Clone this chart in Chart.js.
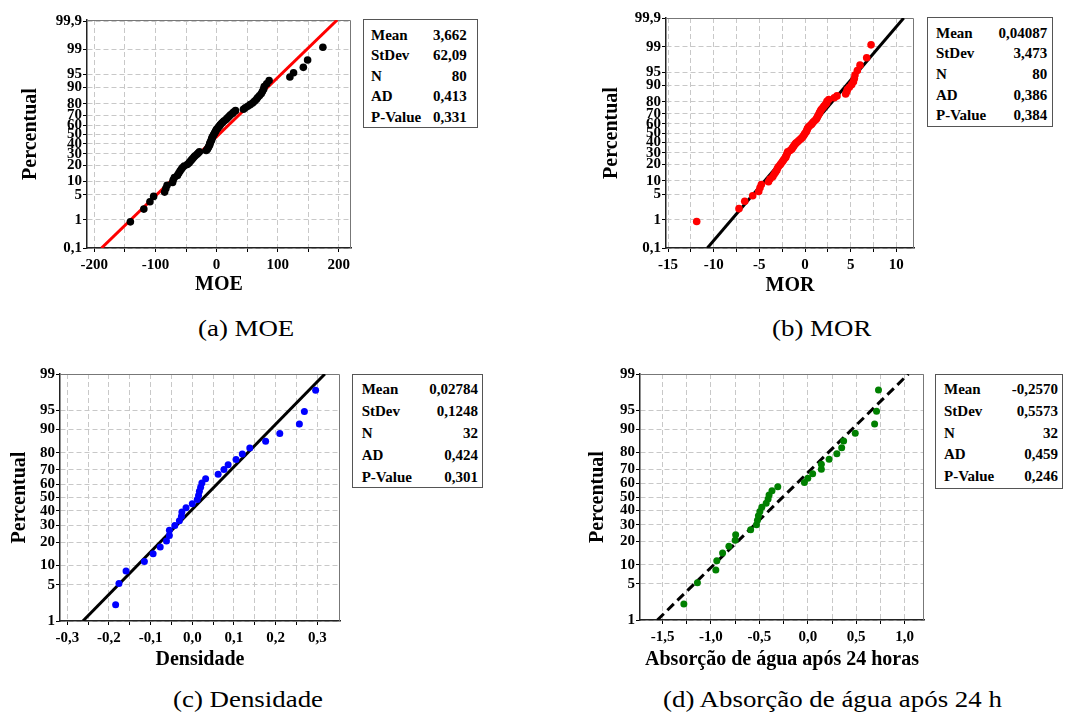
<!DOCTYPE html>
<html>
<head>
<meta charset="utf-8">
<script src="https://cdn.jsdelivr.net/npm/chart.js@4.4.1/dist/chart.umd.min.js"></script>
<style>
  body { margin: 0; background: #fff; width: 1067px; height: 713px; position: relative; overflow: hidden;
         font-family: "Liberation Serif", "Times New Roman", serif; }
  .panel { position: absolute; }
  .stats { position: absolute; border: 1px solid #555; box-sizing: border-box; font-weight: bold; font-size: 15px; }
  .stats span { position: absolute; line-height: 18px; white-space: nowrap; }
  .caption { position: absolute; font-size: 24px; line-height: 28px; white-space: nowrap;
             transform-origin: left center; transform: scaleX(1.12); }
</style>
</head>
<body>

<div class="panel" id="pa"><canvas id="cMOE"></canvas></div>
<div class="panel" id="pb"><canvas id="cMOR"></canvas></div>
<div class="panel" id="pc"><canvas id="cDens"></canvas></div>
<div class="panel" id="pd"><canvas id="cAbs"></canvas></div>

<script>
// sorted sample values for each property
var moeValues = [-141, -119, -109, -103, -85, -83, -81, -72, -71, -69,
                 -64, -62, -60, -58, -56, -53, -48, -45, -43, -41,
                 -39, -37, -35, -32, -30, -28, -17, -15, -14, -13,
                 -12, -11, -11, -10, -9, -8, -8, -7, -6, -5,
                 -4, -3, -2, -1, 0, 2, 3, 5, 6, 8,
                 10, 12, 15, 17, 19, 21, 23, 26, 28, 31,
                 44, 47, 51, 55, 59, 62, 65, 67, 70, 73,
                 75, 77, 78, 82, 86, 120, 126, 142, 149, 174];
var morValues = [-11.86, -7.23, -6.6, -5.73, -5.07, -4.93, -4.78, -4.0, -3.83, -3.54,
                 -3.4, -3.25, -3.1, -3.03, -2.92, -2.74, -2.63, -2.48, -2.37, -2.26,
                 -2.12, -2.08, -2.0, -1.95, -1.9, -1.64, -1.46, -1.39, -1.28, -1.2,
                 -1.1, -1.0, -0.84, -0.7, -0.55, -0.4, -0.29, -0.18, -0.11, -0.04,
                 0.07, 0.15, 0.2, 0.25, 0.3, 0.4, 0.55, 0.7, 0.8, 0.9,
                 1.05, 1.2, 1.28, 1.35, 1.42, 1.5, 1.57, 1.64, 1.72, 1.82,
                 1.97, 2.08, 2.23, 2.37, 2.4, 2.6, 3.2, 3.5, 4.45, 4.56,
                 4.63, 4.85, 5.1, 5.3, 5.4, 5.47, 5.73, 6.02, 6.75, 7.23];
var densValues = [-0.184, -0.176, -0.159, -0.115, -0.094, -0.077, -0.062, -0.055,
                  -0.055, -0.042, -0.031, -0.026, -0.025, -0.015, 0.0, 0.012,
                  0.015, 0.017, 0.02, 0.023, 0.032, 0.062, 0.076, 0.086,
                  0.105, 0.12, 0.138, 0.176, 0.21, 0.257, 0.269, 0.296];
var absValues = [-1.28, -1.14, -0.95, -0.94, -0.88, -0.815, -0.75, -0.745,
                 -0.59, -0.53, -0.52, -0.51, -0.495, -0.475, -0.43, -0.41,
                 -0.40, -0.37, -0.31, -0.035, 0.0, 0.05, 0.14, 0.14,
                 0.22, 0.30, 0.35, 0.37, 0.49, 0.69, 0.71, 0.73];

// summary table: Mean, StDev, N, AD, P-Value
var statNames = ['Mean', 'StDev', 'N', 'AD', 'P-Value'];
var moeStats = ['3,662', '62,09', '80', '0,413', '0,331'];
var morStats = ['0,04087', '3,473', '80', '0,386', '0,384'];
var densStats = ['0,02784', '0,1248', '32', '0,424', '0,301'];
var absStats = ['-0,2570', '0,5573', '32', '0,459', '0,246'];

// probability axis ticks (percent)
var pctWide = [0.1, 1, 5, 10, 20, 30, 40, 50, 60, 70, 80, 90, 95, 99, 99.9];
var pctNarrow = [1, 5, 10, 20, 30, 40, 50, 60, 70, 80, 90, 95, 99];

// x grid lines and their labels
var moeGrid = [-200, -150, -100, -50, 0, 50, 100, 150, 200];
var moeGridLabels = ['-200', '', '-100', '', '0', '', '100', '', '200'];
var morGrid = [-15, -12.5, -10, -7.5, -5, -2.5, 0, 2.5, 5, 7.5, 10];
var morGridLabels = ['-15', '', '-10', '', '-5', '', '0', '', '5', '', '10'];
var densGrid = [-0.3, -0.25, -0.2, -0.15, -0.1, -0.05, 0, 0.05, 0.1, 0.15, 0.2, 0.25, 0.3];
var densGridLabels = ['-0,3', '', '-0,2', '', '-0,1', '', '0,0', '', '0,1', '', '0,2', '', '0,3'];
var absGrid = [-1.5, -1.25, -1, -0.75, -0.5, -0.25, 0, 0.25, 0.5, 0.75, 1];
var absGridLabels = ['-1,5', '', '-1,0', '', '-0,5', '', '0,0', '', '0,5', '', '1,0'];

var serif = "'Liberation Serif', 'Times New Roman', serif";
Chart.defaults.font.family = serif;

function num(s) { return parseFloat(s.replace(',', '.')); }

// inverse normal CDF (Acklam)
function qnorm(p) {
  var a = [-39.69683028665376, 220.9460984245205, -275.9285104469687, 138.3577518672690, -30.66479806614716, 2.506628277459239];
  var b = [-54.47609879822406, 161.5858368580409, -155.6989798598866, 66.80131188771972, -13.28068155288572];
  var c = [-0.007784894002430293, -0.3223964580411365, -2.400758277161838, -2.549732539343734, 4.374664141464968, 2.938163982698783];
  var d = [0.007784695709041462, 0.3224671290700398, 2.445134137142996, 3.754408661907416];
  var q, r;
  if (p < 0.02425 || p > 0.97575) {
    q = Math.sqrt(-2 * Math.log(p < 0.5 ? p : 1 - p));
    var v = (((((c[0]*q+c[1])*q+c[2])*q+c[3])*q+c[4])*q+c[5]) / ((((d[0]*q+d[1])*q+d[2])*q+d[3])*q+1);
    return p < 0.5 ? v : -v;
  }
  q = p - 0.5; r = q * q;
  return (((((a[0]*r+a[1])*r+a[2])*r+a[3])*r+a[4])*r+a[5])*q / (((((b[0]*r+b[1])*r+b[2])*r+b[3])*r+b[4])*r+1);
}

// top and right edges of the plot box
var frame = {
  id: 'frame',
  beforeDatasetsDraw: function(chart) {
    var ctx = chart.ctx, a = chart.chartArea;
    ctx.save();
    ctx.strokeStyle = '#777';
    ctx.lineWidth = 1;
    ctx.beginPath();
    ctx.moveTo(a.left, a.top + 0.5);
    ctx.lineTo(a.right - 0.5, a.top + 0.5);
    ctx.lineTo(a.right - 0.5, a.bottom);
    ctx.stroke();
    ctx.restore();
  }
};

function statsBox(stats, box) {
  var el = document.createElement('div');
  el.className = 'stats';
  el.style.left = box.left + 'px'; el.style.top = box.top + 'px';
  el.style.width = box.w + 'px'; el.style.height = box.h + 'px';
  statNames.forEach(function(name, i) {
    var y = box.row0 + i * box.step - 9;
    var l = document.createElement('span');
    l.textContent = name;
    l.style.left = box.padL + 'px'; l.style.top = y + 'px';
    var v = document.createElement('span');
    v.textContent = stats[i];
    v.style.right = box.padR + 'px'; v.style.top = y + 'px';
    el.appendChild(l); el.appendChild(v);
  });
  document.body.appendChild(el);
}

function caption(text, left, top) {
  var el = document.createElement('div');
  el.className = 'caption';
  el.textContent = text;
  el.style.left = left + 'px'; el.style.top = top + 'px';
  document.body.appendChild(el);
}

function probPlot(p) {
  var wrap = document.getElementById(p.wrap);
  wrap.style.left = p.L + 'px'; wrap.style.top = p.T + 'px';
  var cv = document.getElementById(p.canvas);
  cv.width = p.W; cv.height = p.H;

  var n = p.values.length;
  var pts = p.values.map(function(v, i) {
    return {x: v, y: qnorm((i + 1 - 0.3) / (n + 0.4))};
  });
  var mean = num(p.stats[0]), sd = num(p.stats[1]);
  var fit = [p.yMin, p.yMax].map(function(z) { return {x: mean + sd * z, y: z}; });
  var yTicks = p.pct.map(function(v) { return qnorm(v / 100); });

  new Chart(cv, {
    type: 'scatter',
    data: {
      datasets: [
        { data: pts, order: 0, pointRadius: p.r, pointHoverRadius: p.r,
          backgroundColor: p.dot, borderWidth: 0 },
        { data: fit, order: 1, showLine: true, pointRadius: 0, fill: false,
          borderColor: p.line, borderWidth: 3, borderDash: p.dash || [] }
      ]
    },
    options: {
      responsive: false,
      animation: false,
      layout: { padding: { top: p.padTop, right: p.padRight, left: 0, bottom: 0 } },
      plugins: { legend: { display: false }, tooltip: { enabled: false } },
      scales: {
        x: {
          type: 'linear', min: p.xMin, max: p.xMax,
          afterBuildTicks: function(s) { s.ticks = p.grid.map(function(v) { return {value: v}; }); },
          afterFit: function(s) { s.height = p.xh; },
          ticks: { autoSkip: false, maxRotation: 0, padding: 4, color: '#000',
                   font: { size: 15, weight: 'bold' },
                   callback: function(v, i) { return p.gridLabels[i]; } },
          grid: { color: '#c8c8c8', lineWidth: 1, tickLength: 4, tickColor: '#000', tickWidth: 1 },
          border: { display: true, color: '#222', width: 1.5, dash: [5, 3] },
          title: { display: true, text: p.xTitle, color: '#000',
                   font: { size: 20, weight: 'bold' }, padding: { top: 0, bottom: p.xTitlePad } }
        },
        y: {
          type: 'linear', min: p.yMin, max: p.yMax,
          afterBuildTicks: function(s) { s.ticks = yTicks.map(function(v) { return {value: v}; }); },
          afterFit: function(s) { s.width = p.yw; },
          ticks: { autoSkip: false, padding: 1, color: '#000',
                   font: { size: 15, weight: 'bold' },
                   callback: function(v, i) { return String(p.pct[i]).replace('.', ','); } },
          grid: { color: '#c8c8c8', lineWidth: 1, tickLength: 4, tickColor: '#000', tickWidth: 1 },
          border: { display: true, color: '#222', width: 1.5, dash: [5, 3] },
          title: { display: true, text: 'Percentual', color: '#000',
                   font: { size: 20, weight: 'bold' }, padding: { top: p.yTitlePad, bottom: 0 } }
        }
      }
    },
    plugins: [frame]
  });
}

probPlot({ wrap: 'pa', canvas: 'cMOE', L: 0, T: 0, W: 355, H: 300,
  yw: 87, xh: 52, padTop: 20, padRight: 4, xMin: -212, xMax: 220, yMin: -3.09, yMax: 3.12,
  values: moeValues, stats: moeStats, pct: pctWide, grid: moeGrid, gridLabels: moeGridLabels,
  xTitle: 'MOE', xTitlePad: 3.5, yTitlePad: 18.5, dot: '#000000', line: '#ff0000', r: 3.8 });

probPlot({ wrap: 'pb', canvas: 'cMOR', L: 590, T: 0, W: 328, H: 300,
  yw: 76, xh: 52, padTop: 18, padRight: 4, xMin: -15.22, xMax: 11.93, yMin: -3.09, yMax: 3.1,
  values: morValues, stats: morStats, pct: pctWide, grid: morGrid, gridLabels: morGridLabels,
  xTitle: 'MOR', xTitlePad: 2, yTitlePad: 10, dot: '#ff0000', line: '#000000', r: 3.8 });

probPlot({ wrap: 'pc', canvas: 'cDens', L: 0, T: 360, W: 344, H: 320,
  yw: 60, xh: 59, padTop: 14, padRight: 4, xMin: -0.3175, xMax: 0.3545, yMin: qnorm(0.01), yMax: qnorm(0.99),
  values: densValues, stats: densStats, pct: pctNarrow, grid: densGrid, gridLabels: densGridLabels,
  xTitle: 'Densidade', xTitlePad: 8, yTitlePad: 8, dot: '#0000ff', line: '#000000', r: 3.5 });

probPlot({ wrap: 'pd', canvas: 'cAbs', L: 580, T: 360, W: 348, H: 320,
  yw: 60, xh: 60, padTop: 14, padRight: 4, xMin: -1.733, xMax: 1.2, yMin: qnorm(0.01), yMax: qnorm(0.99),
  values: absValues, stats: absStats, pct: pctNarrow, grid: absGrid, gridLabels: absGridLabels,
  xTitle: 'Absorção de água após 24 horas', xTitlePad: 8, yTitlePad: 6, dot: '#008000', line: '#000000',
  dash: [9, 5], r: 3.5 });

statsBox(moeStats, { left: 362.7, top: 19.3, w: 115, h: 109, row0: 14.7, step: 20.5, padL: 7.3, padR: 10 });
statsBox(morStats, { left: 926.7, top: 16.7, w: 126.6, h: 110, row0: 15, step: 20.65, padL: 8.3, padR: 5 });
statsBox(densStats, { left: 351.7, top: 374.3, w: 131.6, h: 114, row0: 14, step: 21.9, padL: 9, padR: 4.3 });
statsBox(absStats, { left: 935, top: 374.3, w: 128, h: 114.7, row0: 14, step: 21.7, padL: 8, padR: 4 });

caption('(a) MOE', 198, 313.5);
caption('(b) MOR', 772, 313.5);
caption('(c) Densidade', 172.7, 684.5);
caption('(d) Absorção de água após 24 h', 662.7, 684.5);
</script>
</body>
</html>
